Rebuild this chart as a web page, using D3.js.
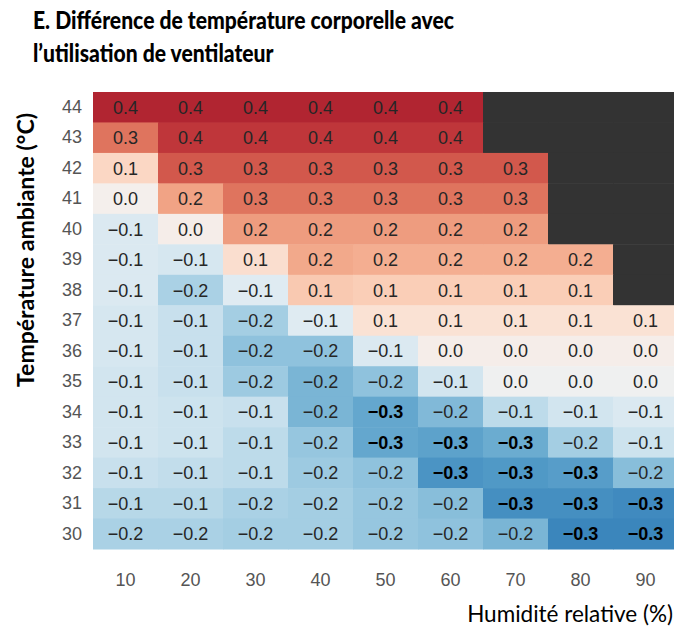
<!DOCTYPE html>
<html>
<head>
<meta charset="utf-8">
<script src="https://cdn.jsdelivr.net/npm/d3@7"></script>
<style>
  body { margin: 0; background: #fff; }
</style>
</head>
<body>
<div class="heat"></div>
<script>
// humidity columns and temperature rows
const humidity = [10, 20, 30, 40, 50, 60, 70, 80, 90];
const temps = [44, 43, 42, 41, 40, 39, 38, 37, 36, 35, 34, 33, 32, 31, 30];

// body temperature difference (°C), one row per ambient temperature, null = no data
const diffValues = [
  [0.39, 0.39, 0.39, 0.39, 0.39, 0.39, null, null, null],
  [0.27, 0.36, 0.36, 0.36, 0.36, 0.36, null, null, null],
  [0.10, 0.31, 0.31, 0.31, 0.31, 0.31, 0.31, null, null],
  [0.01, 0.20, 0.27, 0.27, 0.27, 0.27, 0.27, null, null],
  [-0.07, 0.02, 0.21, 0.21, 0.21, 0.21, 0.21, null, null],
  [-0.07, -0.08, 0.08, 0.19, 0.18, 0.18, 0.18, 0.18, null],
  [-0.07, -0.16, -0.06, 0.13, 0.12, 0.12, 0.12, 0.12, null],
  [-0.08, -0.11, -0.17, -0.06, 0.07, 0.07, 0.07, 0.07, 0.07],
  [-0.08, -0.11, -0.20, -0.20, -0.07, 0.02, 0.02, 0.02, 0.02],
  [-0.09, -0.11, -0.18, -0.23, -0.20, -0.09, -0.01, -0.01, -0.01],
  [-0.09, -0.10, -0.11, -0.23, -0.26, -0.22, -0.13, -0.09, -0.07],
  [-0.09, -0.10, -0.13, -0.19, -0.26, -0.27, -0.25, -0.17, -0.10],
  [-0.11, -0.12, -0.13, -0.18, -0.20, -0.30, -0.29, -0.28, -0.21],
  [-0.14, -0.14, -0.16, -0.17, -0.19, -0.21, -0.31, -0.31, -0.32],
  [-0.16, -0.16, -0.17, -0.17, -0.19, -0.20, -0.23, -0.33, -0.33]
];

const titleLines = ["E. Différence de température corporelle avec", "l\u2019utilisation de ventilateur"];

const width = 674, height = 629;
const margin = { top: 92, left: 93 };
const gridW = 585, gridH = 457;

const svg = d3.select(".heat")
  .append("svg")
  .attr("width", width)
  .attr("height", height);

// shrink/grow a text's font so it spans the given width
function fitWidth(sel, target) {
  const size = parseFloat(sel.style("font-size"));
  const w = sel.node().getComputedTextLength();
  sel.style("font-size", (size * target / w).toFixed(2) + "px");
}

// title: same condensing factor on both lines, line 1 spans the reference width
const titleText = svg.append("g")
  .selectAll("text")
  .data(titleLines)
  .enter()
  .append("text")
  .attr("x", 33)
  .attr("y", (d, i) => 29 + i * 33)
  .text(d => d)
  .style("font-family", "Lato, 'Open Sans', sans-serif")
  .style("font-weight", "900")
  .style("font-size", "25px");
const squeeze = 421 / titleText.nodes()[0].getComputedTextLength();
titleText.each(function () {
  d3.select(this)
    .attr("textLength", (this.getComputedTextLength() * squeeze).toFixed(1))
    .attr("lengthAdjust", "spacingAndGlyphs");
});

// scales
const x = d3.scaleBand().domain(humidity).range([margin.left, margin.left + gridW]);
const y = d3.scaleBand().domain(temps).range([margin.top, margin.top + gridH]);
const color = d3.scaleDiverging(d3.interpolateRdBu).domain([0.5, 0, -0.5]);
const fmt = d3.format(".1f");

// flatten into cells
const cells = [];
temps.forEach((t, i) => {
  humidity.forEach((h, j) => {
    cells.push({ t: t, h: h, v: diffValues[i][j] });
  });
});

const g = svg.append("g");

g.selectAll("rect")
  .data(cells)
  .enter()
  .append("rect")
  .attr("x", d => x(d.h))
  .attr("y", d => y(d.t))
  .attr("width", x.bandwidth() + 0.5)
  .attr("height", y.bandwidth() + 0.5)
  .style("fill", d => d.v === null ? "#333333" : color(d.v));

g.selectAll("text")
  .data(cells.filter(d => d.v !== null))
  .enter()
  .append("text")
  .attr("x", d => x(d.h) + x.bandwidth() / 2)
  .attr("y", d => y(d.t) + y.bandwidth() / 2)
  .attr("dy", "0.36em")
  .attr("text-anchor", "middle")
  .text(d => fmt(d.v))
  .style("font-family", "'Liberation Sans', Arial, sans-serif")
  .style("font-size", "18px")
  .style("font-weight", d => fmt(d.v) === "\u22120.3" ? "bold" : "normal")
  .style("fill", d => fmt(d.v) === "\u22120.3" ? "#000" : "#262626");

// axes (no domain line, no ticks)
const yAxis = svg.append("g")
  .attr("transform", "translate(" + margin.left + ",0)")
  .call(d3.axisLeft(y).tickSize(0).tickPadding(11));
yAxis.select(".domain").remove();
yAxis.selectAll("text")
  .style("font-family", "'Liberation Sans', Arial, sans-serif")
  .style("font-size", "18px")
  .style("fill", "#555");

const xAxis = svg.append("g")
  .attr("transform", "translate(0," + (margin.top + gridH) + ")")
  .call(d3.axisBottom(x).tickSize(0).tickPadding(24));
xAxis.select(".domain").remove();
xAxis.selectAll("text")
  .style("font-family", "'Liberation Sans', Arial, sans-serif")
  .style("font-size", "18px")
  .style("fill", "#555");

// axis titles
const yTitle = svg.append("text")
  .attr("transform", "translate(34,250) rotate(-90)")
  .attr("text-anchor", "middle")
  .text("Température ambiante (°C)")
  .style("font-family", "Lato, 'Open Sans', sans-serif")
  .style("font-weight", "bold")
  .style("font-size", "19px");
fitWidth(yTitle, 274);

const xTitle = svg.append("text")
  .attr("x", 673)
  .attr("y", 622)
  .attr("text-anchor", "end")
  .text("Humidité relative (%)")
  .style("font-family", "Lato, 'Open Sans', sans-serif")
  .style("font-size", "20px");
fitWidth(xTitle, 206);
</script>
</body>
</html>
